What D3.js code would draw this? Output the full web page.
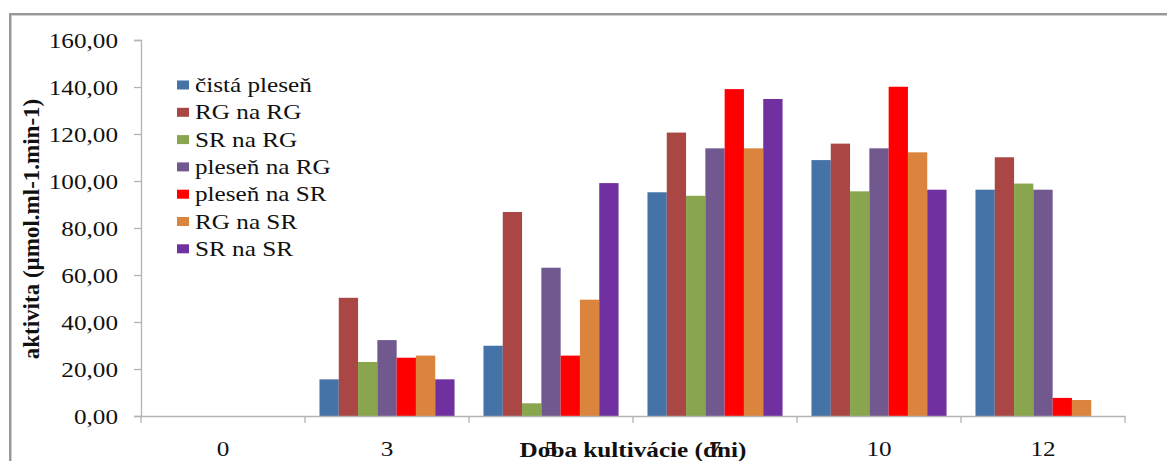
<!DOCTYPE html>
<html>
<head>
<meta charset="utf-8">
<script src="https://cdn.jsdelivr.net/npm/d3@7"></script>
<style>
  body { margin: 0; background: #fff; }
  svg { display: block; }
  text { font-family: "Liberation Serif", "Times New Roman", serif; fill: #111; }
</style>
</head>
<body>
<svg id="chart" width="1167" height="461"></svg>
<script>
// Days of cultivation (x categories)
const days = ["0", "3", "5", "7", "10", "12"];

// Series names, in legend order
const seriesNames = [
  "čistá pleseň", "RG na RG", "SR na RG", "pleseň na RG",
  "pleseň na SR", "RG na SR", "SR na SR"
];

// Activity values (µmol.ml-1.min-1) per day, one array per series
const cistaPlesen = [0, 15.6, 29.9, 95.2, 108.9, 96.3];
const rgNaRg      = [0, 50.3, 86.8, 120.6, 115.9, 110.1];
const srNaRg      = [0, 23.0, 5.4, 93.7, 95.6, 98.9];
const plesenNaRg  = [0, 32.3, 63.1, 113.9, 113.9, 96.3];
const plesenNaSr  = [0, 24.8, 25.7, 139.1, 140.1, 7.7];
const rgNaSr      = [0, 25.7, 49.5, 113.9, 112.2, 6.8];
const srNaSr      = [0, 15.6, 99.1, 134.9, 96.3, 0];

const yTicks = [0, 20, 40, 60, 80, 100, 120, 140, 160];

const seriesColors = ["#4572A7", "#AA4643", "#89A54E", "#71588F", "#FF0000", "#DB843D", "#7030A0"];

const seriesValues = [cistaPlesen, rgNaRg, srNaRg, plesenNaRg, plesenNaSr, rgNaSr, srNaSr];

// Table built from the arrays above
const table = days.map((d, i) => ({
  day: d,
  values: seriesNames.map((name, s) => ({ name, s, value: seriesValues[s][i] }))
}));

const svg = d3.select("#chart");
const plot = { left: 141, right: 1125, top: 40, bottom: 416 };
const STRETCH = 1.2;     // text is drawn slightly wide
const FONT = 21;

// Outer chart frame
svg.append("rect")
  .attr("x", 10.5).attr("y", 14.5)
  .attr("width", 1200).attr("height", 500)
  .attr("fill", "none")
  .attr("stroke", "#d0d0d0").attr("stroke-width", 3);
svg.append("rect")
  .attr("x", 10).attr("y", 14)
  .attr("width", 1200).attr("height", 500)
  .attr("fill", "none")
  .attr("stroke", "#858585").attr("stroke-width", 1.5);

const x = d3.scaleBand().domain(days).range([plot.left, plot.right]).padding(0);
const xInner = d3.scaleBand().domain(d3.range(seriesNames.length))
  .range([0, x.bandwidth()]).paddingInner(0).paddingOuter(0.75);
const y = d3.scaleLinear().domain([0, 160]).range([plot.bottom, plot.top]);

function wideText(sel, tx, ty, str, anchor, size, weight) {
  return sel.append("text")
    .attr("transform", `translate(${tx},${ty}) scale(${STRETCH},1)`)
    .attr("text-anchor", anchor || "start")
    .style("font-size", (size || FONT) + "px")
    .style("font-weight", weight || "normal")
    .text(str);
}

// Bars
const groups = svg.append("g").selectAll("g")
  .data(table).join("g")
  .attr("transform", d => `translate(${x(d.day)},0)`);
groups.selectAll("rect")
  .data(d => d.values).join("rect")
  .attr("x", d => xInner(d.s))
  .attr("width", xInner.bandwidth())
  .attr("y", d => y(d.value))
  .attr("height", d => y(0) - y(d.value))
  .attr("fill", d => seriesColors[d.s]);

// Y axis
const yAxis = d3.axisLeft(y).tickValues(yTicks).tickSize(7).tickPadding(0)
  .tickFormat(d => d.toFixed(2).replace(".", ","));
const yg = svg.append("g").attr("transform", `translate(${plot.left},0)`).call(yAxis);
yg.select(".domain").attr("stroke", "#b3b3b3").attr("stroke-width", 1.3);
yg.selectAll(".tick line").attr("stroke", "#b3b3b3").attr("stroke-width", 1.3);
yg.selectAll(".tick text")
  .attr("x", null).attr("dy", "0.34em")
  .attr("transform", `translate(-23,0) scale(${STRETCH},1)`)
  .attr("fill", "#111")
  .style("font-family", '"Liberation Serif", serif')
  .style("font-size", FONT + "px");

// X axis: baseline, boundary ticks and centred day labels
const xAxis = d3.axisBottom(x).tickSize(0).tickPadding(0);
const xg = svg.append("g").attr("transform", `translate(0,${plot.bottom})`).call(xAxis);
xg.select(".domain").attr("stroke", "#b3b3b3").attr("stroke-width", 1.3);
xg.selectAll(".tick text")
  .attr("y", null).attr("dy", null)
  .attr("transform", `translate(0,40) scale(${STRETCH},1)`)
  .attr("fill", "#111")
  .style("font-family", '"Liberation Serif", serif')
  .style("font-size", FONT + "px");
const edges = days.map(d => x(d)).concat([plot.right]);
xg.selectAll(".edge").data(edges).join("line")
  .attr("class", "edge")
  .attr("x1", d => d).attr("x2", d => d)
  .attr("y1", 0).attr("y2", 7)
  .attr("stroke", "#b3b3b3").attr("stroke-width", 1.3);

// Axis titles
wideText(svg, (plot.left + plot.right) / 2, 457, "Doba kultivácie (dni)", "middle", FONT, "bold");
svg.append("text")
  .attr("transform", `translate(39,229) rotate(-90)`)
  .attr("text-anchor", "middle")
  .style("font-size", "23px")
  .style("font-weight", "bold")
  .text("aktivita (µmol.ml-1.min-1)");

// Legend
const legend = svg.append("g").attr("transform", "translate(177,85)");
seriesNames.forEach((name, i) => {
  const row = legend.append("g").attr("transform", `translate(0,${i * 27.3})`);
  row.append("rect").attr("x", 0).attr("y", -4.5).attr("width", 12).attr("height", 9)
    .attr("fill", seriesColors[i]);
  wideText(row, 18, 7, name, "start", FONT);
});
</script>
</body>
</html>
